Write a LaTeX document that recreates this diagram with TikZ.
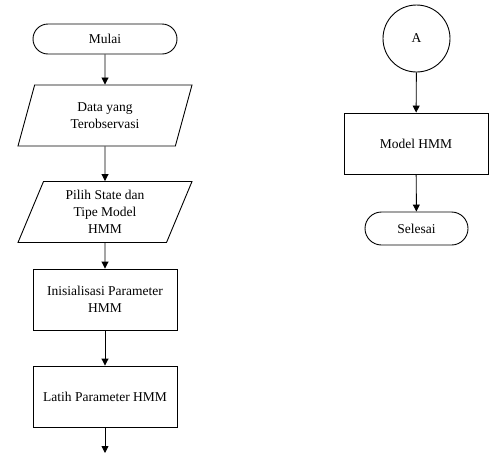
\documentclass[tikz,border=0pt]{standalone}
\usepackage{fontspec}
\setmainfont{Liberation Serif}
\usetikzlibrary{arrows.meta, positioning, shapes.geometric}

\begin{document}
\begin{tikzpicture}[x=1pt, y=-1pt, line width=0.9pt,
    terminal/.style={draw, rounded corners=15pt, minimum width=144pt, minimum height=30pt, align=center},
    io/.style={draw, trapezium, trapezium left angle=63, trapezium right angle=117, trapezium stretches body,
               minimum width=174pt, minimum height=61pt, align=center, inner xsep=0pt},
    process/.style={draw, rectangle, minimum width=144pt, minimum height=61pt, align=center},
    connector/.style={draw, circle, minimum size=67pt},
    arrow/.style={-{Triangle[length=7pt, width=7pt]}},
    font=\fontsize{13.5}{17}\selectfont]
    \useasboundingbox (0,0) rectangle (498,453);
    % kolom kiri
    \node[terminal] (mulai) at (105, 39) {Mulai};
    \node[io] (data) at (105, 115.5) {Data yang\\Terobservasi};
    \node[io] (pilih) at (105, 212) {Pilih State dan\\Tipe Model\\HMM};
    \node[process] (inisial) at (105, 299.5) {Inisialisasi Parameter\\HMM};
    \node[process] (latih) at (105, 396.5) {Latih Parameter HMM};
    \coordinate (lanjut) at (105, 453);

    % kolom kanan
    \node[connector] (A) at (416.5, 38.5) {A};
    \node[process] (model) at (416, 143.5) {Model HMM};
    \node[terminal, minimum width=103pt, minimum height=33pt, rounded corners=16.5pt] (selesai) at (416.5, 228.5) {Selesai};

    % panah
    \draw[arrow] (mulai) -- (data);
    \draw[arrow] (data) -- (pilih);
    \draw[arrow] (pilih) -- (inisial);
    \draw[arrow] (inisial) -- (latih);
    \draw[arrow] (latih) -- (lanjut);
    \draw[arrow] (A) -- (model);
    \draw[arrow] (model) -- (selesai);
\end{tikzpicture}
\end{document}
